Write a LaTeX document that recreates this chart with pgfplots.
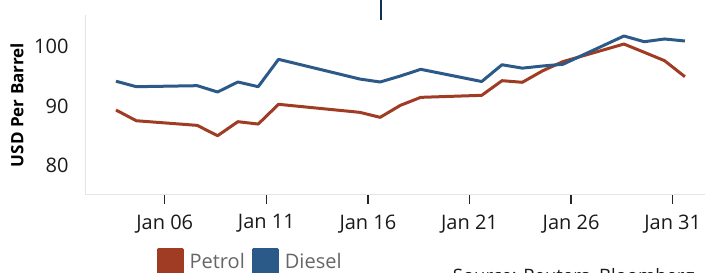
\documentclass[border=0pt]{standalone}
\usepackage{pgfplots}
\pgfplotsset{compat=1.18}
\usepackage{fontspec}
\setmainfont{Open Sans}
\definecolor{petrol}{RGB}{160,60,35}
\definecolor{diesel}{RGB}{44,90,136}
\definecolor{navyline}{RGB}{14,50,80}
\begin{document}
\begin{tikzpicture}
\path[use as bounding box] (0pt,0pt) rectangle (705pt,273pt);
\clip (0pt,0pt) rectangle (705pt,273pt);
\begin{axis}[
  at={(86pt,78pt)}, anchor=south west,
  scale only axis, width=619pt, height=180pt,
  xmin=2.524, xmax=32.99, ymin=75.08, ymax=105.33,
  axis x line*=bottom, axis y line*=left,
  axis line style={-, draw=black!10, line width=1pt},
  xtick={6.4,11.4,16.4,21.4,26.4,31.4},
  xticklabels={Jan 06,Jan 11,Jan 16,Jan 21,Jan 26,Jan 31},
  ytick={80,90,100},
  tick align=outside,
  x tick style={draw=black!85, line width=1.4pt},
  y tick style={draw=none},
  major tick length=9pt,
  ticklabel style={font=\fontsize{20}{22}\selectfont, text=black!90},
  xticklabel style={yshift=-7pt},
  yticklabel style={xshift=-5pt},
  ylabel={\bfseries USD Per Barrel},
  ylabel style={font=\fontsize{17}{19}\selectfont, at={(axis description cs:-0.1115,0.5)}, anchor=center},
  /pgf/number format/assume math mode=true,
  clip=false,
  legend columns=2,
  legend style={at={(rel axis cs:0.109,-0.372)}, anchor=west, draw=none, fill=none,
    font=\fontsize{20}{22}\selectfont, text=black!60,
    /tikz/every odd column/.style={column sep=4pt},
    /tikz/every even column/.style={column sep=5pt}},
  legend image code/.code={\fill[#1] (0pt,-12pt) rectangle (24pt,12pt);},
]
\addplot[petrol, line width=3pt, line join=round] coordinates {
(4,89.36) (5,87.56) (8,86.78) (9,85.04) (10,87.4) (11,87.0) (12,90.32)
(16,88.97) (17,88.13) (18,90.15) (19,91.49) (22,91.83) (23,94.29) (24,94.02)
(25,95.95) (26,97.5) (29,100.45) (30,99.06) (31,97.65) (32,94.96)};
\addlegendentry{Petrol}
\addplot[diesel, line width=3pt, line join=round] coordinates {
(4,94.2) (5,93.28) (8,93.45) (9,92.39) (10,94.07) (11,93.28) (12,97.88)
(16,94.57) (17,94.07) (18,95.08) (19,96.2) (22,94.15) (23,96.97) (24,96.4)
(25,96.76) (26,97.05) (29,101.8) (30,100.84) (31,101.3) (32,100.96)};
\addlegendentry{Diesel}
\draw[navyline, line width=2pt] (axis cs:17.04,104.5) -- (axis cs:17.04,108.5);
\node[anchor=west, font=\fontsize{18.5}{20}\selectfont, text=black!90] at (rel axis cs:0.587,-0.46) {Source: Reuters, Bloomberg};
\end{axis}
\end{tikzpicture}
\end{document}
